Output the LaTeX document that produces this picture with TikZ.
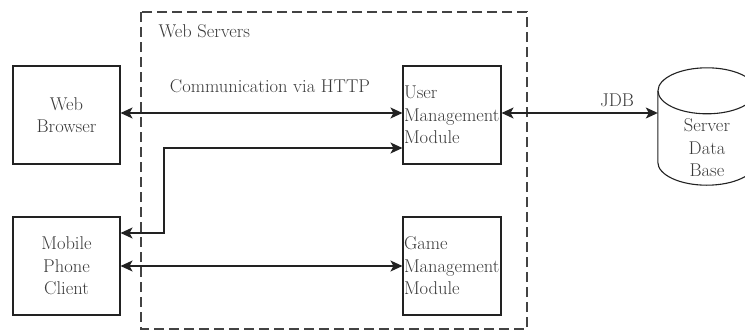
\documentclass[tikz,border=0pt]{standalone}
\usepackage{fontspec}
\setmainfont{Latin Modern Roman}
\usetikzlibrary{arrows.meta}
\definecolor{ink}{HTML}{222222}
\definecolor{txt}{HTML}{3A3A3A}
\begin{document}
\begin{tikzpicture}[x=1pt,y=1pt,
  every node/.style={font=\fontsize{18.5}{22.5}\selectfont, text=txt},
  box/.style={draw=ink, line width=1.1pt, inner sep=1pt, align=center},
  modbox/.style={draw=ink, line width=1.1pt, minimum width=98pt, minimum height=98pt, inner sep=1pt, text width=96pt, align=left},
  arr/.style={ink, line width=1.2pt, {Stealth[length=12pt,width=11pt,inset=3pt]}-{Stealth[length=12pt,width=11pt,inset=3pt]}}]
\useasboundingbox (0,0) rectangle (745,333);
\clip (0,0) rectangle (745,333);
% web servers frame
\draw[ink!85, line width=1.1pt, dash pattern=on 10pt off 5pt] (141,321) rectangle (527,4);
\node[anchor=west] (ws) at (155,302) {Web Servers};
% clients
\node[box, minimum width=107pt, minimum height=98pt] (wb) at (66.5,218) {Web\\Browser};
\node[box, minimum width=107pt, minimum height=98pt] (mob) at (66.5,67) {Mobile\\Phone\\Client};
% modules
\node[modbox] (um) at (452,218) {User\\Management\\Module};
\node[modbox] (gm) at (452,67) {Game\\Management\\Module};
% database
\node[minimum width=98pt, minimum height=118pt, inner sep=0pt] (db) at (707,207) {};
\node[align=center] (dbt) at ([yshift=-22pt]db.center) {Server\\Data\\Base};
\draw[ink, line width=1.1pt] ([yshift=-24pt]db.north) ellipse [x radius=49pt, y radius=23pt];
\draw[ink, line width=1.1pt] ([yshift=-24pt]db.north west) -- ([yshift=23pt]db.south west)
  arc[start angle=180, end angle=360, x radius=49pt, y radius=23pt] -- ([yshift=-24pt]db.north east);
% labels
\node (http) at (270,247) {Communication via HTTP};
\node (jdb) at (617,233) {JDB};
% connectors
\draw[arr] ([yshift=2pt]wb.east) -- ([yshift=2pt]um.west);
\coordinate (bend) at (164,0);
\coordinate (e1) at ([yshift=-33pt]um.west);
\coordinate (e2) at ([yshift=33pt]mob.east);
\draw[arr] (e1) -- (e1 -| bend) -- (e2 -| bend) -- (e2);
\draw[arr] (mob.east) -- (gm.west);
\draw[arr] ([yshift=2pt]um.east) -- ([yshift=2pt]um.east -| db.west);
\end{tikzpicture}
\end{document}
